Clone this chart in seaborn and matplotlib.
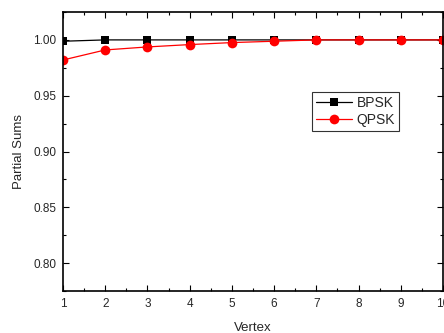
import matplotlib
matplotlib.use("Agg")
import matplotlib.pyplot as plt
import seaborn as sns
import pandas as pd
from matplotlib.ticker import MultipleLocator

vertex = [1, 2, 3, 4, 5, 6, 7, 8, 9, 10]
bpsk = [0.9988, 1.0, 1.0, 1.0, 1.0, 1.0, 1.0, 1.0, 1.0, 1.0]
qpsk = [0.982, 0.991, 0.9937, 0.9958, 0.9976, 0.9988, 1.0, 1.0, 1.0, 1.0]

df = pd.DataFrame({
    "Vertex": vertex * 2,
    "value": bpsk + qpsk,
    "series": ["BPSK"] * len(vertex) + ["QPSK"] * len(vertex),
})

sns.set_style("ticks")
plt.rcParams['font.family'] = ['Liberation Sans', 'DejaVu Sans']

fig = plt.figure(figsize=(4.44, 3.33), dpi=100)
ax = fig.add_axes([63/444, 1 - 291/333, (443 - 63)/444, (291 - 12)/333])

sns.lineplot(data=df, x="Vertex", y="value", hue="series", style="series",
             palette={"BPSK": "black", "QPSK": "red"},
             markers={"BPSK": "s", "QPSK": "o"}, dashes=False,
             markersize=6, linewidth=0.9, markeredgewidth=0, ax=ax)
for ln in ax.lines:
    if ln.get_marker() == 'o':
        ln.set_markersize(7)

ax.set_xlim(1, 10)
ax.set_ylim(0.775, 1.025)
ax.xaxis.set_major_locator(MultipleLocator(1))
ax.xaxis.set_minor_locator(MultipleLocator(0.5))
ax.yaxis.set_major_locator(MultipleLocator(0.05))
ax.yaxis.set_minor_locator(MultipleLocator(0.025))
ax.yaxis.set_major_formatter(plt.FormatStrFormatter('%.2f'))
ax.tick_params(which='both', direction='in', top=True, right=True, color='black')
ax.tick_params(which='major', length=4, width=0.8, labelsize=8.5, pad=5)
ax.tick_params(which='minor', length=2, width=0.8)
for s in ax.spines.values():
    s.set_color('black')
    s.set_linewidth(1.2)
ax.set_xlabel("Vertex", fontsize=9.5, labelpad=9)
ax.set_ylabel("Partial Sums", fontsize=9.5, labelpad=6)

leg = ax.legend(loc='upper left', bbox_to_anchor=(249/380, 1 - 80/279),
                fontsize=10, frameon=True, fancybox=False, edgecolor='black',
                handlelength=2.6, borderpad=0.3, labelspacing=0.2, handletextpad=0.3,
                borderaxespad=0)
leg.get_frame().set_linewidth(0.8)
for h in leg.legend_handles:
    h.set_markersize(6 if h.get_marker() == 's' else 7)

fig.savefig("out.png", dpi=100)
